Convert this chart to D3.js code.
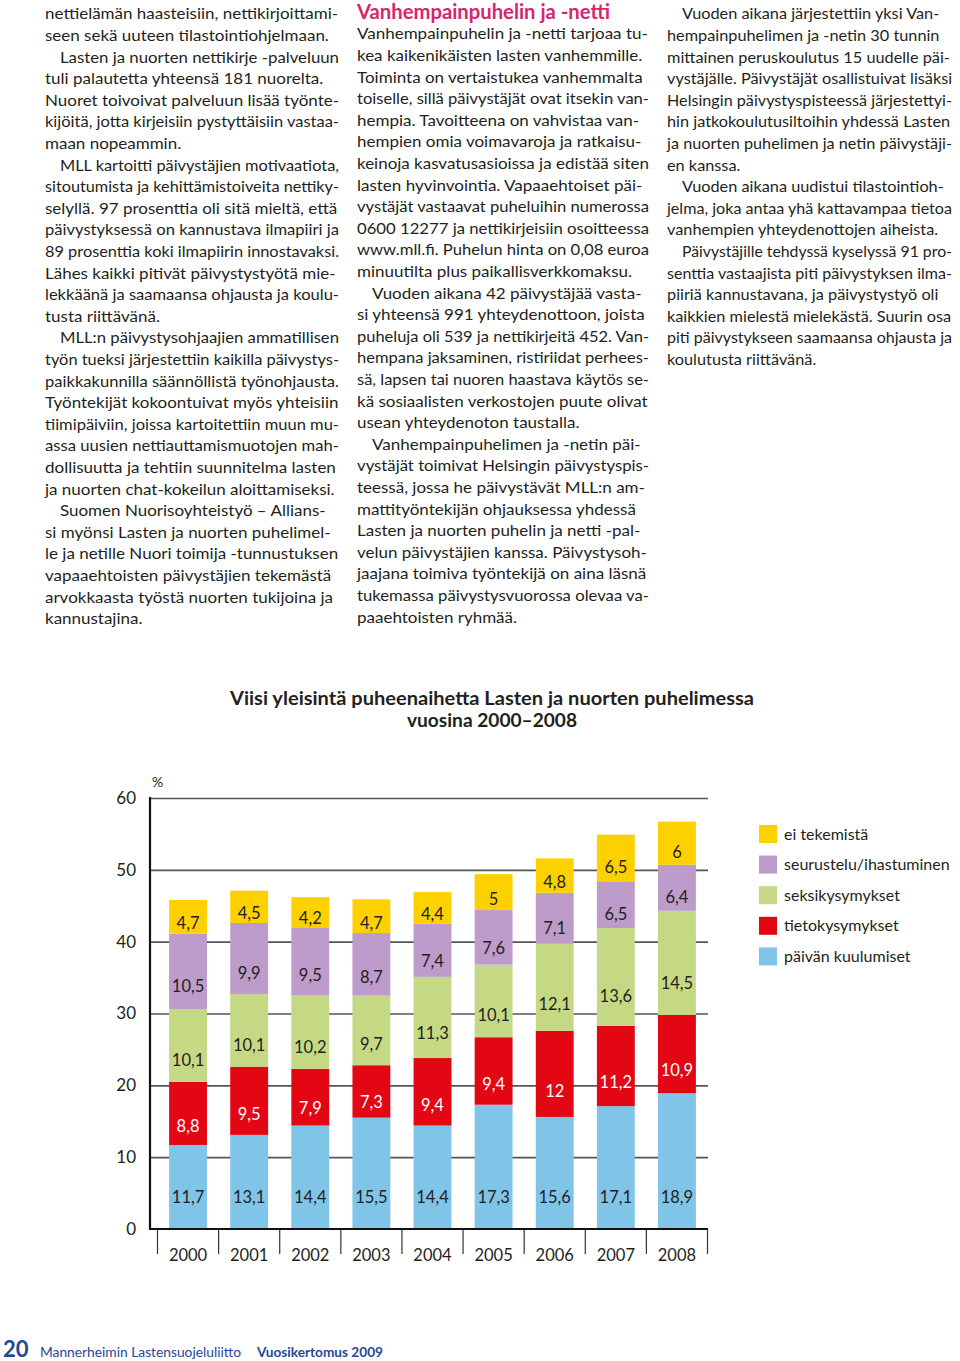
<!DOCTYPE html>
<html><head><meta charset="utf-8">
<script src="https://cdn.jsdelivr.net/npm/d3@7"></script>
<style>
html,body{margin:0;padding:0;background:#fff;}
svg{display:block;}
</style></head>
<body><svg id="c" width="960" height="1361"></svg>
<script>
// ---------- DATA ----------
const years = ["2000","2001","2002","2003","2004","2005","2006","2007","2008"];
const paivanKuulumiset = [11.7, 13.1, 14.4, 15.5, 14.4, 17.3, 15.6, 17.1, 18.9];
const tietokysymykset  = [8.8, 9.5, 7.9, 7.3, 9.4, 9.4, 12, 11.2, 10.9];
const seksikysymykset  = [10.1, 10.1, 10.2, 9.7, 11.3, 10.1, 12.1, 13.6, 14.5];
const seurustelu       = [10.5, 9.9, 9.5, 8.7, 7.4, 7.6, 7.1, 6.5, 6.4];
const eiTekemista      = [4.7, 4.5, 4.2, 4.7, 4.4, 5, 4.8, 6.5, 6];
const seriesKeys   = ["paivan","tieto","seksi","seurustelu","ei"];
const seriesLabels = ["päivän kuulumiset","tietokysymykset","seksikysymykset","seurustelu/ihastuminen","ei tekemistä"];
const seriesColors = ["#80c4e8","#e30613","#c5d985","#bd9bca","#fdd100"];
const yTicks = [0,10,20,30,40,50,60];
const titleLines = ["Viisi yleisintä puheenaihetta Lasten ja nuorten puhelimessa","vuosina 2000–2008"];

const leftLines = [
"nettielämän haasteisiin, nettikirjoittami-",
"seen sekä uuteen tilastointiohjelmaan.",
"Lasten ja nuorten nettikirje -palveluun",
"tuli palautetta yhteensä 181 nuorelta.",
"Nuoret toivoivat palveluun lisää työnte-",
"kijöitä, jotta kirjeisiin pystyttäisiin vastaa-",
"maan nopeammin.",
"MLL kartoitti päivystäjien motivaatiota,",
"sitoutumista ja kehittämistoiveita nettiky-",
"selyllä. 97 prosenttia oli sitä mieltä, että",
"päivystyksessä on kannustava ilmapiiri ja",
"89 prosenttia koki ilmapiirin innostavaksi.",
"Lähes kaikki pitivät päivystystyötä mie-",
"lekkäänä ja saamaansa ohjausta ja koulu-",
"tusta riittävänä.",
"MLL:n päivystysohjaajien ammatillisen",
"työn tueksi järjestettiin kaikilla päivystys-",
"paikkakunnilla säännöllistä työnohjausta.",
"Työntekijät kokoontuivat myös yhteisiin",
"tiimipäiviin, joissa kartoitettiin muun mu-",
"assa uusien nettiauttamismuotojen mah-",
"dollisuutta ja tehtiin suunnitelma lasten",
"ja nuorten chat-kokeilun aloittamiseksi.",
"Suomen Nuorisoyhteistyö – Allians-",
"si myönsi Lasten ja nuorten puhelimel-",
"le ja netille Nuori toimija -tunnustuksen",
"vapaaehtoisten päivystäjien tekemästä",
"arvokkaasta työstä nuorten tukijoina ja",
"kannustajina."];
const leftIndents = [2,7,15,23];

const midHeading = "Vanhempainpuhelin ja -netti";
const midLines = [
"Vanhempainpuhelin ja -netti tarjoaa tu-",
"kea kaikenikäisten lasten vanhemmille.",
"Toiminta on vertaistukea vanhemmalta",
"toiselle, sillä päivystäjät ovat itsekin van-",
"hempia. Tavoitteena on vahvistaa van-",
"hempien omia voimavaroja ja ratkaisu-",
"keinoja kasvatusasioissa ja edistää siten",
"lasten hyvinvointia. Vapaaehtoiset päi-",
"vystäjät vastaavat puheluihin numerossa",
"0600 12277 ja nettikirjeisiin osoitteessa",
"www.mll.fi. Puhelun hinta on 0,08 euroa",
"minuutilta plus paikallisverkkomaksu.",
"Vuoden aikana 42 päivystäjää vasta-",
"si yhteensä 991 yhteydenottoon, joista",
"puheluja oli 539 ja nettikirjeitä 452. Van-",
"hempana jaksaminen, ristiriidat perhees-",
"sä, lapsen tai nuoren haastava käytös se-",
"kä sosiaalisten verkostojen puute olivat",
"usean yhteydenoton taustalla.",
"Vanhempainpuhelimen ja -netin päi-",
"vystäjät toimivat Helsingin päivystyspis-",
"teessä, jossa he päivystävät MLL:n am-",
"mattityöntekijän ohjauksessa yhdessä",
"Lasten ja nuorten puhelin ja netti -pal-",
"velun päivystäjien kanssa. Päivystysoh-",
"jaajana toimiva työntekijä on aina läsnä",
"tukemassa päivystysvuorossa olevaa va-",
"paaehtoisten ryhmää."];
const midIndents = [12,19];

const rightLines = [
"Vuoden aikana järjestettiin yksi Van-",
"hempainpuhelimen ja -netin 30 tunnin",
"mittainen peruskoulutus 15 uudelle päi-",
"vystäjälle. Päivystäjät osallistuivat lisäksi",
"Helsingin päivystyspisteessä järjestettyi-",
"hin jatkokoulutusiltoihin yhdessä Lasten",
"ja nuorten puhelimen ja netin päivystäji-",
"en kanssa.",
"Vuoden aikana uudistui tilastointioh-",
"jelma, joka antaa yhä kattavampaa tietoa",
"vanhempien yhteydenottojen aiheista.",
"Päivystäjille tehdyssä kyselyssä 91 pro-",
"senttia vastaajista piti päivystyksen ilma-",
"piiriä kannustavana, ja päivystystyö oli",
"kaikkien mielestä mielekästä. Suurin osa",
"piti päivystykseen saamaansa ohjausta ja",
"koulutusta riittävänä."];
const rightIndents = [0,8,11];

const footerNum = "20";
const footerOrg = "Mannerheimin Lastensuojeluliitto";
const footerPub = "Vuosikertomus 2009";

// ---------- DRAW ----------
const svg = d3.select("#c");
svg.append("rect").attr("width",960).attr("height",1361).attr("fill","#fff");
const FONT = "Lato, 'Open Sans', sans-serif";
const INK = "#231f20";

function column(lines, indents, x0, y0, refIdx, refW, maxW) {
  const g = svg.append("g");
  const texts = g.selectAll("text").data(lines).join("text")
    .attr("x", 0)
    .attr("y", (d,i) => y0 + i*21.6)
    .attr("font-family", FONT).attr("font-size", 15.2)
    .attr("fill", INK).text(d => d);
  const nodes = texts.nodes();
  const lens = nodes.map(n => n.getComputedTextLength());
  const sx = refW / (lens[refIdx] + (indents.includes(refIdx) ? 16 : 0) );
  g.attr("transform", `translate(${x0},0) scale(${sx},1)`);
  texts.attr("x", (d,i) => indents.includes(i) ? 15/sx : 0);
  texts.each(function(d,i){
    const ind = indents.includes(i) ? 15 : 0;
    const w = lens[i]*sx + ind;
    if (w > maxW) {
      d3.select(this).attr("textLength", (maxW - ind)/sx).attr("lengthAdjust","spacingAndGlyphs");
    }
  });
}
column(leftLines, leftIndents, 45, 19.5, 0, 293, 294);
column(midLines, midIndents, 357, 39.5, 0, 291, 292);
column(rightLines, rightIndents, 667, 19.5, 3, 285, 285);

svg.append("text").attr("x",357).attr("y",18.5)
  .attr("font-family",FONT).attr("font-weight","bold").attr("font-size",20)
  .attr("fill","#d7256e").attr("textLength",253).attr("lengthAdjust","spacingAndGlyphs")
  .text(midHeading);

// Title
svg.selectAll("text.title").data(titleLines).join("text").attr("class","title")
  .attr("x",492).attr("y",(d,i)=>705 + i*22)
  .attr("text-anchor","middle")
  .attr("font-family",FONT).attr("font-weight","bold").attr("font-size",18.5)
  .attr("fill",INK)
  .attr("textLength",(d,i)=> i===0 ? 524 : 170).attr("lengthAdjust","spacingAndGlyphs")
  .text(d=>d);

// Chart
const y = d3.scaleLinear().domain([0,60]).range([1229, 798]);
const x = d3.scaleBand().domain(years).range([157.5, 707.5]).paddingInner(0.38).paddingOuter(0.19);
const axisX0 = 150, axisX1 = 708;

const table = years.map((yr,i)=>({year:yr, paivan:paivanKuulumiset[i], tieto:tietokysymykset[i],
  seksi:seksikysymykset[i], seurustelu:seurustelu[i], ei:eiTekemista[i]}));
const stacked = d3.stack().keys(seriesKeys)(table);

// gridlines
const grid = svg.append("g").attr("transform",`translate(${axisX0},0)`)
  .call(d3.axisLeft(y).tickValues(yTicks.filter(t=>t>0)).tickSize(-(axisX1-axisX0)).tickFormat(""));
grid.select(".domain").remove();
grid.selectAll(".tick line").attr("stroke","#555").attr("stroke-width",1.6);

// bars
const fmt = v => String(v).replace(".", ",");
const layers = svg.append("g").selectAll("g").data(stacked).join("g")
  .attr("fill",(d,i)=>seriesColors[i]);
layers.selectAll("rect").data(d=>d).join("rect")
  .attr("x",d=>x(d.data.year)).attr("width",x.bandwidth())
  .attr("y",d=>y(d[1])).attr("height",d=>y(d[0])-y(d[1]));

// labels
stacked.forEach((layer,li)=>{
  svg.append("g").selectAll("text").data(layer).join("text")
    .attr("x",d=>x(d.data.year)+x.bandwidth()/2)
    .attr("y",d=>{
      if (li===0) return y(0)-32;
      const h = y(d[0])-y(d[1]);
      return (y(d[0])+y(d[1]))/2 + 0.2*h;
    })
    .attr("dy","0.35em")
    .attr("text-anchor","middle")
    .attr("font-family",FONT).attr("font-size",16.5)
    .attr("fill", li===1 ? "#fff" : INK)
    .text(d=>fmt(d.data[seriesKeys[li]]));
});

// y axis
const ya = svg.append("g").attr("transform",`translate(${axisX0},0)`)
  .call(d3.axisLeft(y).tickValues(yTicks).tickSize(0).tickPadding(14).tickFormat(d3.format("d")));
ya.select(".domain").remove();
ya.selectAll("text").attr("font-family",FONT).attr("font-size",17).attr("fill",INK);
svg.append("line").attr("x1",axisX0).attr("x2",axisX0).attr("y1",y(60)-1).attr("y2",y(0)+1)
  .attr("stroke","#111").attr("stroke-width",2.2);
svg.append("text").attr("x",152).attr("y",787).attr("font-family",FONT).attr("font-size",14)
  .attr("fill",INK).text("%");

// x axis
svg.append("line").attr("x1",axisX0-1).attr("x2",axisX1).attr("y1",y(0)).attr("y2",y(0))
  .attr("stroke","#111").attr("stroke-width",2.2);
const bounds = d3.range(years.length+1).map(i=>x.range()[0] + i*x.step());
svg.append("g").selectAll("line").data(bounds).join("line")
  .attr("x1",d=>d).attr("x2",d=>d).attr("y1",y(0)+1).attr("y2",y(0)+25)
  .attr("stroke","#333").attr("stroke-width",1.2);
svg.append("g").selectAll("text").data(years).join("text")
  .attr("x",d=>x(d)+x.bandwidth()/2).attr("y",1261)
  .attr("text-anchor","middle").attr("font-family",FONT).attr("font-size",16.5)
  .attr("fill",INK).text(d=>d);

// legend (top: ei tekemistä ... bottom: päivän kuulumiset)
const legOrder = d3.range(seriesKeys.length).reverse();
const leg = svg.append("g").selectAll("g").data(legOrder).join("g")
  .attr("transform",(d,i)=>`translate(759,${825 + i*30.6})`);
leg.append("rect").attr("width",18).attr("height",18).attr("fill",d=>seriesColors[d]);
leg.append("text").attr("x",25).attr("y",9).attr("dy","0.35em")
  .attr("font-family",FONT).attr("font-size",16).attr("fill",INK)
  .text(d=>seriesLabels[d]);

// footer
const BLUE = "#23479a";
svg.append("text").attr("x",3).attr("y",1357).attr("font-family",FONT).attr("font-weight","bold")
  .attr("font-size",22).attr("fill",BLUE).text(footerNum);
svg.append("text").attr("x",40).attr("y",1357).attr("font-family",FONT)
  .attr("font-size",13.5).attr("fill",BLUE).attr("textLength",201).attr("lengthAdjust","spacingAndGlyphs").text(footerOrg);
svg.append("text").attr("x",257).attr("y",1357).attr("font-family",FONT).attr("font-weight","bold")
  .attr("font-size",13.5).attr("fill",BLUE).attr("textLength",126).attr("lengthAdjust","spacingAndGlyphs").text(footerPub);
</script>
</body></html>
